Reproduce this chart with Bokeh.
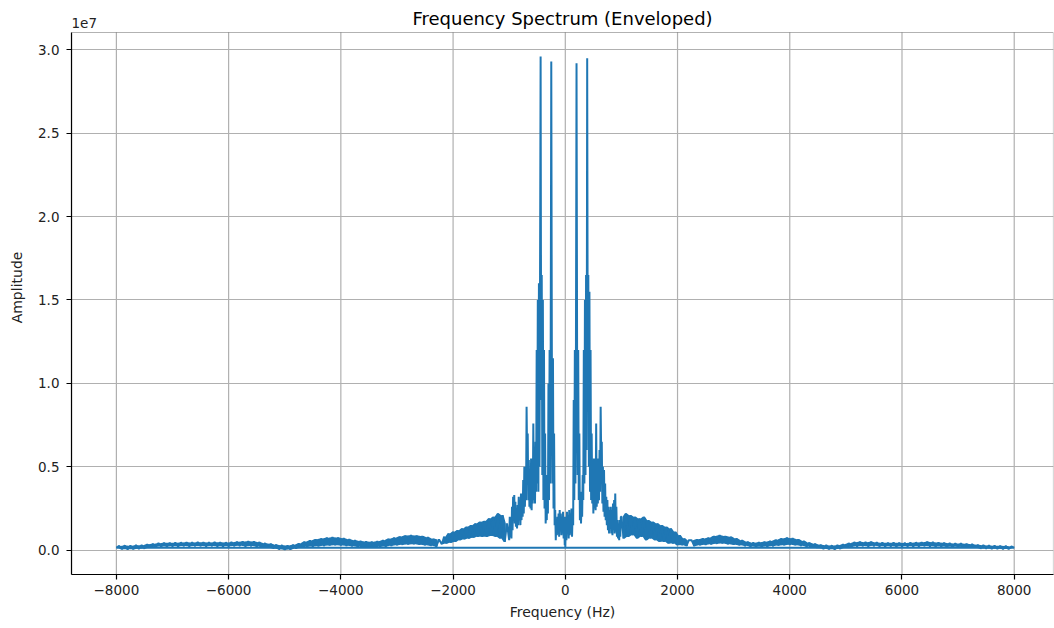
import numpy as np
from bokeh.plotting import figure
from bokeh.models import Range1d, FixedTicker, PrintfTickFormatter, Label, ColumnDataSource, BoxAnnotation
from bokeh.embed import file_html
from bokeh.resources import INLINE

# Amplitudes in units of 1e6.
# Positive side, 0 .. 990 Hz, 10 Hz bins
pos_center = [0.1, 2.0, 0.6, 2.3, 1.0, 2.1, 0.7, 2.4, 0.9, 2.2,
              1.0, 2.5, 0.8, 2.2, 1.5, 9.0, 3.0, 12.0, 4.0, 12.5,
              29.2, 12.0, 4.5, 12.0, 3.0, 7.0, 1.8, 3.5, 1.6, 3.0,
              2.0, 4.5, 3.0, 12.0, 4.0, 15.0, 4.5, 16.5, 6.0, 29.5,
              10.0, 16.5, 5.0, 15.5, 3.5, 12.0, 3.0, 7.0, 2.8, 5.0,
              2.2, 5.5, 2.5, 4.6, 2.4, 7.6, 2.6, 5.0, 2.8, 5.5,
              3.0, 6.0, 3.5, 8.6, 5.5, 6.5, 2.8, 5.0, 2.3, 4.8,
              2.0, 4.0, 1.8, 3.2, 1.5, 3.0, 1.2, 2.6, 1.0, 2.4,
              1.3, 2.6, 1.0, 2.4, 0.9, 2.8, 1.2, 3.0, 1.0, 3.4,
              1.1, 2.6, 0.8, 1.8, 0.7, 1.6, 0.6, 1.8, 0.8, 2.0]
# Positive side, 1000 .. 2200 Hz, 40 Hz bins
pos_mid = [2.0, 0.7, 2.2, 0.8, 2.1, 0.9, 2.0, 0.7, 1.9, 0.8,
           2.0, 0.6, 1.8, 0.7, 1.7, 0.6, 1.6, 0.5, 1.5, 0.5,
           1.4, 0.4, 1.3, 0.4, 1.1, 0.3, 0.9, 0.3, 0.7, 0.25, 0.6]
# Positive side, 2250 .. 8000 Hz, 50 Hz bins
pos_tail = [0.6, 0.25, 0.65, 0.3, 0.7, 0.32, 0.75, 0.35, 0.85, 0.38,
            0.9, 0.4, 0.85, 0.36, 0.8, 0.33, 0.7, 0.3, 0.6, 0.26,
            0.5, 0.22, 0.45, 0.2, 0.48, 0.2, 0.5, 0.22, 0.55, 0.25,
            0.62, 0.28, 0.7, 0.3, 0.75, 0.32, 0.72, 0.3, 0.65, 0.26,
            0.55, 0.22, 0.45, 0.16, 0.38, 0.12, 0.32, 0.08, 0.3, 0.06,
            0.28, 0.05, 0.3, 0.08, 0.35, 0.14, 0.42, 0.2, 0.48, 0.24,
            0.5, 0.25, 0.48, 0.24, 0.5, 0.26, 0.46, 0.24, 0.45, 0.23,
            0.44, 0.24, 0.45, 0.22, 0.44, 0.23, 0.43, 0.24, 0.45, 0.23,
            0.46, 0.24, 0.47, 0.25, 0.5, 0.24, 0.48, 0.22, 0.46, 0.22,
            0.44, 0.2, 0.42, 0.2, 0.4, 0.2, 0.4, 0.18, 0.38, 0.16,
            0.36, 0.14, 0.32, 0.1, 0.3, 0.1, 0.28, 0.08, 0.27, 0.08,
            0.26, 0.07, 0.25, 0.07, 0.22, 0.15]
# Negative side, -8000 .. -2250 Hz, 50 Hz bins
neg_tail = [0.15, 0.25, 0.06, 0.28, 0.05, 0.27, 0.06, 0.3, 0.08, 0.3,
            0.1, 0.35, 0.16, 0.38, 0.2, 0.42, 0.22, 0.44, 0.22, 0.44,
            0.24, 0.45, 0.23, 0.46, 0.25, 0.47, 0.24, 0.46, 0.25, 0.48,
            0.25, 0.47, 0.24, 0.46, 0.25, 0.48, 0.24, 0.47, 0.23, 0.46,
            0.24, 0.48, 0.25, 0.5, 0.26, 0.52, 0.24, 0.54, 0.25, 0.52,
            0.22, 0.48, 0.18, 0.42, 0.14, 0.38, 0.1, 0.33, 0.05, 0.3,
            0.02, 0.28, 0.04, 0.32, 0.1, 0.4, 0.16, 0.5, 0.2, 0.58,
            0.22, 0.65, 0.24, 0.7, 0.26, 0.75, 0.28, 0.78, 0.3, 0.76,
            0.28, 0.72, 0.26, 0.66, 0.24, 0.6, 0.2, 0.55, 0.18, 0.52,
            0.16, 0.5, 0.16, 0.54, 0.2, 0.6, 0.22, 0.68, 0.26, 0.75,
            0.3, 0.82, 0.32, 0.88, 0.34, 0.9, 0.35, 0.88, 0.32, 0.85,
            0.3, 0.78, 0.26, 0.68, 0.22, 0.64]
# Negative side, -2200 .. -1040 Hz, 40 Hz bins
neg_mid = [0.35, 0.8, 0.4, 1.0, 0.45, 1.1, 0.5, 1.2, 0.6, 1.3,
           0.65, 1.4, 0.7, 1.5, 0.75, 1.6, 0.8, 1.7, 0.8, 1.75,
           0.8, 1.9, 0.85, 2.0, 0.8, 2.2, 0.7, 2.1, 0.5, 1.6]
# Negative side, -1000 .. -10 Hz, 10 Hz bins
neg_center = [0.6, 2.0, 0.8, 1.9, 0.7, 2.6, 1.2, 3.2, 1.8, 3.3,
              1.6, 2.9, 1.4, 2.4, 1.3, 2.7, 1.5, 3.2, 1.8, 3.0,
              1.5, 3.4, 1.8, 3.4, 2.0, 4.2, 2.2, 5.0, 2.6, 4.6,
              3.0, 8.6, 5.5, 7.0, 3.0, 5.4, 2.6, 4.8, 2.5, 5.5,
              2.4, 4.6, 2.8, 7.6, 3.0, 5.0, 2.8, 6.5, 3.5, 12.0,
              4.0, 15.0, 3.5, 16.0, 5.0, 16.5, 29.6, 9.0, 16.5, 4.5,
              15.0, 3.0, 12.0, 2.5, 7.0, 1.6, 3.0, 1.8, 4.5, 2.2,
              10.0, 3.0, 12.0, 4.0, 12.5, 29.3, 12.0, 4.0, 11.5, 2.5,
              7.0, 1.5, 2.4, 0.6, 1.8, 0.9, 2.0, 1.0, 2.2, 0.8,
              2.4, 1.2, 2.2, 0.9, 1.9, 1.0, 2.3, 0.7, 2.0, 0.3]

x_ticks = [-8000, -6000, -4000, -2000, 0, 2000, 4000, 6000, 8000]
y_ticks = [0.0, 0.5, 1.0, 1.5, 2.0, 2.5, 3.0]
title_text = "Frequency Spectrum (Enveloped)"
x_label = "Frequency (Hz)"
y_label = "Amplitude"
y_scale_text = "1e7"


def seg(start, step, vals):
    return start + step * np.arange(len(vals)), np.asarray(vals, dtype=float) / 10.0  # -> 1e7 units


parts = [seg(0, 10, pos_center), seg(1000, 40, pos_mid), seg(2250, 50, pos_tail),
         seg(-8000, 50, neg_tail), seg(-2200, 40, neg_mid), seg(-1000, 10, neg_center)]
freq = np.concatenate([q[0] for q in parts])
amp = np.concatenate([q[1] for q in parts])
src = ColumnDataSource(dict(freq=freq, amp=amp))

# axis limits (matplotlib-like margins)
X0, X1 = -8800, 8700
Y0, Y1 = -0.146, 3.104
PX_PER_UNIT = 542.0 / (Y1 - Y0)
Y_TOP = Y1 + 32.0 / PX_PER_UNIT  # frame extended up to the canvas top to hold the title

FONT = "DejaVu Sans"
BLUE = "#1f77b4"
p = figure(width=1054, height=628, output_backend="svg", toolbar_location=None,
           x_range=Range1d(X0, X1), y_range=Range1d(Y0, Y_TOP),
           min_border_left=71, min_border_right=1, min_border_top=0, min_border_bottom=54)
p.outline_line_color = None
p.background_fill_color = "white"
p.border_fill_color = "white"

# vertical grid lines, limited to the axes box
p.xgrid.visible = False
p.segment(x0=x_ticks, y0=[Y0] * len(x_ticks), x1=x_ticks, y1=[Y1] * len(x_ticks),
          line_color="#b0b0b0", line_width=1.2, level="underlay")
p.ygrid.ticker = FixedTicker(ticks=y_ticks)
p.ygrid.grid_line_color = "#b0b0b0"
p.ygrid.grid_line_width = 1.2

# dense noise bands: fill between neighbouring samples of the zig-zag segments
for fx, fy in (parts[1], parts[2], parts[3], parts[4]):
    xm = (fx[:-1] + fx[1:]) / 2.0
    p.varea(x=xm, y1=np.minimum(fy[:-1], fy[1:]), y2=np.maximum(fy[:-1], fy[1:]),
            fill_color=BLUE, fill_alpha=1.0)

p.line("freq", "amp", source=src, color=BLUE, line_width=2)

# axes box (top / right spines)
p.add_layout(BoxAnnotation(left=X0, right=X1, bottom=Y0, top=Y1, fill_alpha=0,
                           line_color="black", line_width=1.2))

for ax in (p.xaxis[0], p.yaxis[0]):
    ax.axis_line_color = "black"
    ax.axis_line_width = 1.2
    ax.major_tick_line_color = "black"
    ax.major_tick_line_width = 1.2
    ax.major_tick_out = 5
    ax.major_tick_in = 0
    ax.minor_tick_line_color = None
    ax.major_label_text_font = FONT
    ax.major_label_text_font_size = "13.5px"
    ax.major_label_text_color = "#222222"
    ax.axis_label_text_font = FONT
    ax.axis_label_text_font_size = "14px"
    ax.axis_label_text_font_style = "normal"
    ax.axis_label_text_color = "#222222"

p.xaxis.ticker = FixedTicker(ticks=x_ticks)
p.xaxis.major_label_overrides = {t: (("\u2212" + str(-t)) if t < 0 else str(t)) for t in x_ticks}
p.xaxis.axis_label = x_label
p.xaxis.axis_label_standoff = 6
p.yaxis.ticker = FixedTicker(ticks=y_ticks)
p.yaxis.formatter = PrintfTickFormatter(format="%.1f")
p.yaxis.axis_label = y_label
p.yaxis.axis_label_standoff = 10
p.yaxis.major_label_standoff = 7
p.yaxis.bounds = (Y0, Y1)

p.add_layout(Label(x=(X0 + X1) / 2.0, y=Y1 + 14.0 / PX_PER_UNIT, text=title_text,
                   text_align="center", text_baseline="alphabetic",
                   text_font=FONT, text_font_size="18px", text_color="#000000"))
p.add_layout(Label(x=X0, y=Y1 + 10.0 / PX_PER_UNIT, text=y_scale_text,
                   text_align="left", text_baseline="alphabetic",
                   text_font=FONT, text_font_size="13.5px", text_color="#222222"))

open("out.html", "w").write(file_html(p, INLINE))
